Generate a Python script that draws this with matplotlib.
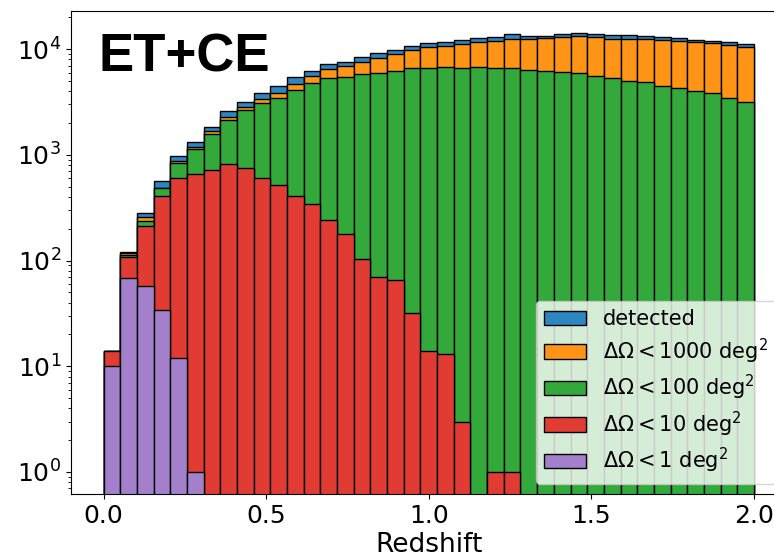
import numpy as np
import matplotlib
matplotlib.use("Agg")
import matplotlib.pyplot as plt

# Bin edges (39 bins between z=0 and z=2)
edges = np.linspace(0.0, 2.0, 40)

detected = [14, 121, 284, 570, 977, 1334, 1849, 2602, 3184, 3875, 4487, 5420, 6267,
            7244, 7620, 8377, 9142, 9830, 10720, 11370, 11750, 12330, 12700, 13130,
            13870, 13420, 13390, 13870, 14130, 13830, 13710, 13480, 13390, 13040,
            12680, 12330, 12080, 11620, 11270]
lt1000 = [14, 117, 258, 490, 881, 1196, 1694, 2297, 2858, 3358, 3875, 4688, 5574,
          6455, 6935, 7516, 8310, 9060, 9830, 10380, 10650, 11270, 11700, 12030,
          12570, 12350, 12700, 12960, 13330, 12910, 12570, 12440, 12350, 12170,
          11830, 11570, 11400, 10960, 10560]
lt100 = [14, 112, 239, 483, 844, 1130, 1577, 2138, 2660, 3120, 3430, 4111, 4756,
         5309, 5496, 5791, 5996, 6267, 6594, 6594, 6714, 6640, 6826, 6640, 6640,
         6310, 6267, 6085, 5915, 5600, 5309, 5000, 4842, 4507, 4325, 4008, 3836,
         3437, 3166]
lt10 = [14, 108, 212, 404, 601, 660, 712, 820, 747, 601, 519, 408, 343, 242, 179,
        103, 70, 65, 32, 14, 13, 3, 0, 1, 1, 0, 0, 0, 0, 0, 0, 0, 0, 0, 0, 0, 0, 0, 0]
lt1 = [10, 69, 58, 34, 12, 1, 0, 0, 0, 0, 0, 0, 0, 0, 0, 0, 0, 0, 0, 0, 0, 0, 0, 0,
       0, 0, 0, 0, 0, 0, 0, 0, 0, 0, 0, 0, 0, 0, 0]

series = [
    (detected, "detected", "#2b86c2"),
    (lt1000, r"$\Delta\Omega < 1000$ deg$^2$", "#ff9416"),
    (lt100, r"$\Delta\Omega < 100$ deg$^2$", "#34a93b"),
    (lt10, r"$\Delta\Omega < 10$ deg$^2$", "#e03c33"),
    (lt1, r"$\Delta\Omega < 1$ deg$^2$", "#a47fcb"),
]

centers = 0.5 * (edges[:-1] + edges[1:])

fig = plt.figure(figsize=(7.74, 5.6), dpi=100)
ax = fig.add_axes([71 / 774, 66 / 560, (786.5 - 71) / 774, (494 - 11) / 560])
ax.set_yscale("log")
for vals, lab, col in series:
    ax.hist(centers, bins=edges, weights=vals, color=col, edgecolor="black",
            linewidth=1.0, label=lab)

ax.set_xlim(-0.1, 2.1)
ax.set_ylim(0.619, 22970)
ax.set_xticks([0.0, 0.5, 1.0, 1.5, 2.0])
ax.tick_params(axis="both", labelsize=18)
ax.set_xlabel("Redshift", fontsize=19, labelpad=3)

fig.text(99 / 774, 1 - 72 / 560, "ET+CE", fontsize=38, fontweight="bold",
         family="Liberation Sans", va="baseline", ha="left")

ax.legend(loc="lower right", fontsize=15, borderaxespad=0.5, labelspacing=0.35)

fig.savefig("out.png", dpi=100)
